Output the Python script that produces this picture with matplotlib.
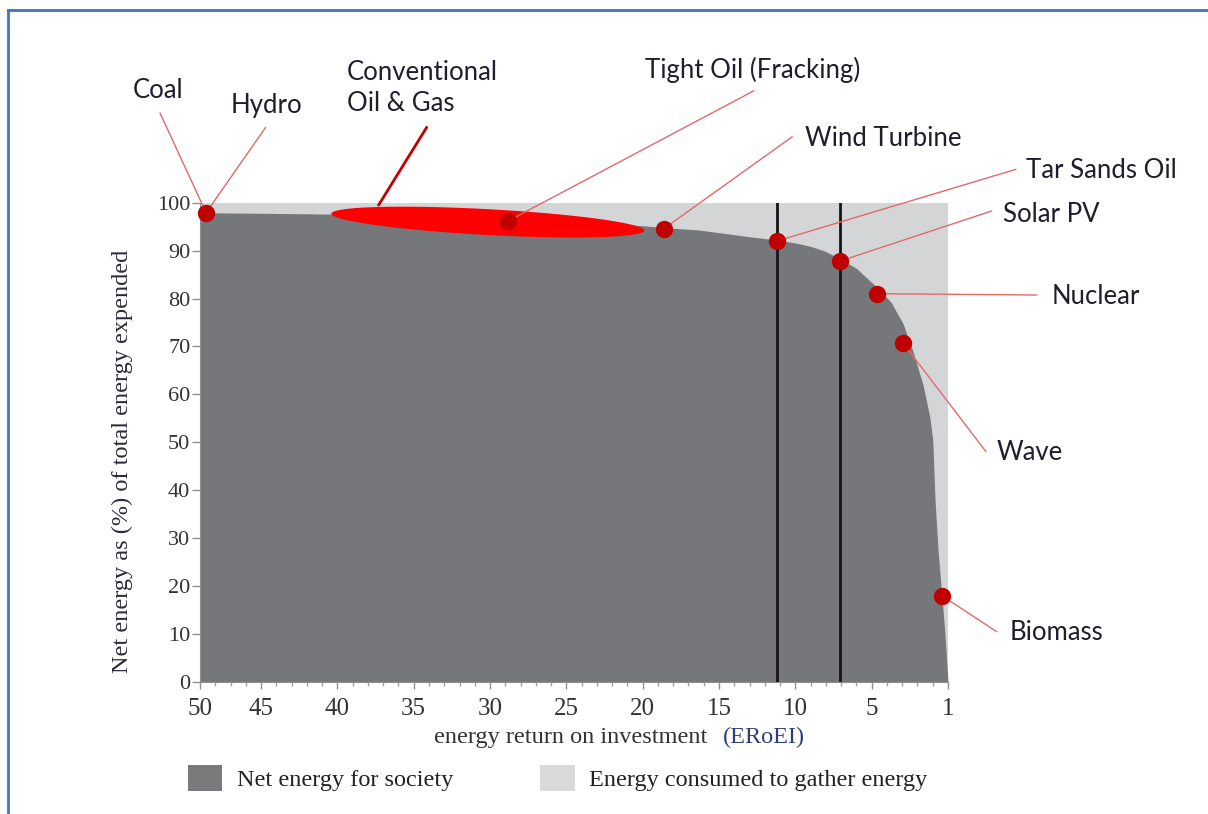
import numpy as np
import matplotlib
matplotlib.use('Agg')
import matplotlib.pyplot as plt
from matplotlib.patches import Patch
from matplotlib.lines import Line2D

# 数据：净能量悬崖曲线 (EROEI, 净能量 %)
curve_eroi = [50, 45, 40, 35, 30, 25, 20, 18.6, 16.3, 13, 11.2, 10, 9, 8, 7.08, 6, 4.72, 4,
              3.36, 2.84, 2.31, 1.94, 1.80, 1.68, 1.52, 1.33, 1.16, 1.0]
curve_net = [97.9, 97.8, 97.6, 97.3, 96.7, 96.0, 95.2, 94.8, 94.3, 92.9, 92.2, 91.6, 90.9, 89.8,
             88.3, 86.3, 82.3, 79.3, 74.8, 69, 62, 55, 50.4, 38, 27.3, 18.4, 10, 0]

# 能源点
src_names = ['Coal', 'Tight Oil (Fracking)', 'Wind Turbine', 'Tar Sands Oil',
             'Solar PV', 'Nuclear', 'Wave', 'Biomass']
src_eroi = [49.5, 28.8, 18.6, 11.2, 7.08, 4.74, 3.38, 1.30]
src_net = [97.9, 96.2, 94.6, 92.0, 87.8, 81.0, 70.8, 17.9]

# 常规油气椭圆 (左端, 右端, 半厚度)
conv_left = (40.4, 97.7)
conv_right = (19.9, 94.2)
conv_half = 2.7

vlines_eroi = [11.2, 7.08]

x_ticks = [50, 45, 40, 35, 30, 25, 20, 15, 10, 5, 1]
x_pos = [49, 45, 40, 35, 30, 25, 20, 15, 10, 5, 0]
y_ticks = list(range(0, 101, 10))

W, H = 1208, 814
dark = '#76777b'
light = '#d4d5d7'
marker_red = '#c00000'
lead_red = '#e06a6a'
txt = '#1e1e2c'


def fwd(e):
    return np.interp(e, x_ticks[::-1], x_pos[::-1])


def inv(p):
    return np.interp(p, x_pos[::-1], x_ticks[::-1])


def fpx(x, y):
    # 图像像素 -> figure 坐标
    return x / W, 1 - y / H


fig = plt.figure(figsize=(W / 100, H / 100), dpi=100)
ax = fig.add_axes([200 / W, 1 - 681.7 / H, 748 / W, 479 / H])
ax.set_xscale('function', functions=(fwd, inv))
ax.set_xlim(50, 1)
ax.set_ylim(0, 100)
ax.set_facecolor(light)

ax.fill_between(curve_eroi, curve_net, 0, color=dark, lw=0, zorder=1)

for xv in vlines_eroi:
    ax.plot([xv, xv], [0, 100], color='#151515', lw=2, zorder=2)

# 椭圆
t = np.linspace(0, 2 * np.pi, 300)
cx = (conv_left[0] + conv_right[0]) / 2
cy = (conv_left[1] + conv_right[1]) / 2
ax_half = (conv_right[0] - conv_left[0]) / 2
ay_half = (conv_right[1] - conv_left[1]) / 2
ax.fill(cx + ax_half * np.cos(t), cy + ay_half * np.cos(t) + conv_half * np.sin(t),
        color='#ff0000', lw=0, zorder=3)

ax.plot(src_eroi, src_net, 'o', color=marker_red, ms=12.5, mew=0, zorder=6, clip_on=False)

# 刻度
ax.set_xticks(x_ticks)
ax.set_xticklabels([str(v) for v in x_ticks])
ax.xaxis.set_minor_locator(matplotlib.ticker.FixedLocator(inv(np.arange(1, 49))))
ax.set_yticks(y_ticks)
ax.tick_params(axis='x', which='major', length=5, width=1, color='#909090',
               labelsize=18, labelcolor='#333333', pad=7)
ax.tick_params(axis='x', which='minor', length=3, width=1, color='#a0a0a0')
ax.tick_params(axis='y', length=6, width=1, color='#909090', labelsize=16,
               labelcolor='#333333', pad=1)
for lab in ax.get_xticklabels() + ax.get_yticklabels():
    lab.set_family('Liberation Serif')
for s in ['top', 'right']:
    ax.spines[s].set_visible(False)
for s in ['left', 'bottom']:
    ax.spines[s].set_color('#909090')

ax.set_ylabel('Net energy as (%) of total energy expended', family='Liberation Serif',
              fontsize=17.5, color='#2a2a3a')
ax.yaxis.set_label_coords(-0.0896, 0.461)

fig.text(*fpx(571, 737), 'energy return on investment', family='Liberation Serif',
         fontsize=17.5, color='#333333', ha='center', va='center')
fig.text(*fpx(764, 737), '(ERoEI)', family='Liberation Serif',
         fontsize=17.5, color='#2b3f7a', ha='center', va='center')

# 标签与引线
labels = [
    ('Coal', (158, 90), (160, 113), (49.5, 97.9), lead_red, 1),
    ('Hydro', (266, 106), (265.7, 127.3), (49.5, 97.9), lead_red, 1),
    ('Tight Oil (Fracking)', (753, 70), (754, 90.7), (28.8, 96.2), lead_red, 1),
    ('Wind Turbine', (883, 138), (792.3, 136.7), (18.6, 94.6), lead_red, 1),
    ('Tar Sands Oil', (1101, 171), (1016, 169.3), (11.2, 92.0), lead_red, 1),
    ('Solar PV', (1051, 214), (991.7, 211), (7.08, 87.8), lead_red, 1),
    ('Nuclear', (1096, 296), (1036.7, 295), (4.74, 81.0), lead_red, 1),
    ('Wave', (1030, 452), (986, 451.7), (3.38, 70.8), lead_red, 1),
    ('Biomass', (1057, 633), (996.7, 631.7), (1.30, 17.9), lead_red, 1),
    ('', None, (426.7, 127.3), (37.3, 99.5), marker_red, 2),
]
for name, tpos, lstart, xy, col, lw in labels:
    ax.annotate('', xy=xy, xycoords='data', xytext=fpx(*lstart), textcoords='figure fraction',
                arrowprops=dict(arrowstyle='-', color=col, lw=lw, shrinkA=0, shrinkB=0),
                annotation_clip=False, zorder=4)
    if name:
        fig.text(*fpx(*tpos), name, family='Lato', fontsize=18.5, color=txt,
                 ha='center', va='center')

fig.text(*fpx(347, 88), 'Conventional\nOil & Gas', family='Lato', fontsize=18.5, color=txt,
         ha='left', va='center', linespacing=1.3)

# 图例
handles = [Patch(facecolor='#7a7a7c', edgecolor='none', label='Net energy for society'),
           Patch(facecolor='#d9d9d9', edgecolor='none', label='Energy consumed to gather energy')]
leg = fig.legend(handles=handles, loc='center left', bbox_to_anchor=fpx(188, 778), ncol=2,
                 frameon=False, borderpad=0, borderaxespad=0, handlelength=1.4,
                 handleheight=1.3, handletextpad=0.6, columnspacing=3.6,
                 prop={'family': 'Liberation Serif', 'size': 17.5})
for tx in leg.get_texts():
    tx.set_color('#222222')

# 蓝色边框
fig.add_artist(Line2D([8 / W, 8 / W], [0, 1 - 10 / H], transform=fig.transFigure,
                      color='#4472c4', lw=2))
fig.add_artist(Line2D([8 / W, 1], [1 - 10 / H, 1 - 10 / H], transform=fig.transFigure,
                      color='#4472c4', lw=2))

fig.savefig('out.png', dpi=100)
